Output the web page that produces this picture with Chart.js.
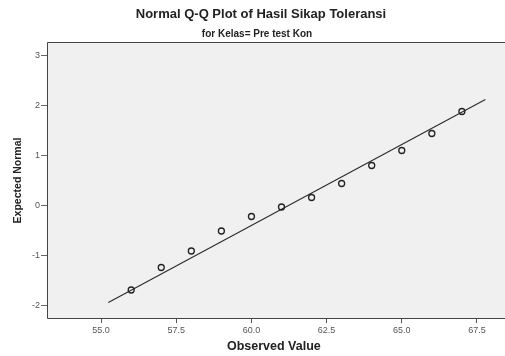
<!DOCTYPE html>
<html>
<head>
<meta charset="utf-8">
<script src="https://cdn.jsdelivr.net/npm/chart.js@4/dist/chart.umd.min.js"></script>
<style>
  html, body { margin: 0; padding: 0; background: #fff; }
  #wrap { width: 505px; height: 356px; }
</style>
</head>
<body>
<div id="wrap"><canvas id="qq" width="505" height="356"></canvas></div>
<script>
// observed values and their expected normal quantiles
var observed = [56, 57, 58, 59, 60, 61, 62, 63, 64, 65, 66, 67];
var expected = [-1.69, -1.24, -0.91, -0.51, -0.22, -0.03, 0.16, 0.44, 0.80, 1.10, 1.44, 1.88];

// reference line end points
var lineX = [55.24, 67.78];
var lineY = [-1.94, 2.12];

var xTicks = [55, 57.5, 60, 62.5, 65, 67.5];
var yTicks = [-2, -1, 0, 1, 2, 3];

var titleText = "Normal Q-Q Plot of Hasil Sikap Toleransi";
var subText = "for Kelas= Pre test Kon";

var FONT = "'Liberation Sans', Arial, sans-serif";

// plot background, frame (runs off the right edge in the original) and titles
var frame = {
  id: 'frame',
  beforeDatasetsDraw: function(chart) {
    var a = chart.chartArea, ctx = chart.ctx;
    ctx.save();
    ctx.fillStyle = '#f0f0f0';
    ctx.fillRect(a.left, a.top, chart.width - a.left, a.bottom - a.top);
    ctx.restore();
  },
  afterDraw: function(chart) {
    var a = chart.chartArea, ctx = chart.ctx;
    ctx.save();
    ctx.strokeStyle = '#444';
    ctx.lineWidth = 1;
    ctx.beginPath();
    ctx.moveTo(chart.width, a.top + 0.5);
    ctx.lineTo(a.left + 0.5, a.top + 0.5);
    ctx.lineTo(a.left + 0.5, a.bottom - 0.5);
    ctx.lineTo(chart.width, a.bottom - 0.5);
    ctx.stroke();
    ctx.fillStyle = '#222';
    ctx.textAlign = 'center';
    ctx.textBaseline = 'middle';
    ctx.font = 'bold 13px ' + FONT;
    ctx.fillText(titleText, 261, 14);
    ctx.font = 'bold 10px ' + FONT;
    ctx.fillText(subText, 257, 34);
    ctx.restore();
  }
};

new Chart("qq", {
  type: "scatter",
  data: {
    datasets: [{
      data: observed.map(function(v, i) { return {x: v, y: expected[i]}; }),
      pointRadius: 3,
      pointHoverRadius: 3,
      pointStyle: 'circle',
      borderColor: '#222',
      borderWidth: 1.3,
      backgroundColor: 'rgba(0,0,0,0)'
    }, {
      data: lineX.map(function(v, i) { return {x: v, y: lineY[i]}; }),
      showLine: true,
      pointRadius: 0,
      borderColor: '#2a2a2a',
      borderWidth: 1.1
    }]
  },
  plugins: [frame],
  options: {
    responsive: false,
    animation: false,
    layout: { padding: { top: 42, right: 0, left: 0, bottom: 0 } },
    plugins: {
      legend: { display: false },
      tooltip: { enabled: false }
    },
    scales: {
      x: {
        type: 'linear',
        min: 53.2,
        max: 68.29,
        afterBuildTicks: function(s) { s.ticks = xTicks.map(function(v) { return {value: v}; }); },
        afterFit: function(s) { s.height = 37; },
        grid: { drawOnChartArea: false, drawTicks: true, tickLength: 4, color: '#555' },
        border: { display: false },
        ticks: {
          padding: 2,
          color: '#555',
          font: { family: FONT, size: 9 },
          callback: function(v) { return Number(v).toFixed(1); }
        },
        title: {
          display: true,
          text: 'Observed Value',
          color: '#222',
          font: { family: FONT, size: 12.5, weight: 'bold' },
          padding: { top: 0, bottom: 2 }
        }
      },
      y: {
        type: 'linear',
        min: -2.27,
        max: 3.27,
        afterBuildTicks: function(s) { s.ticks = yTicks.map(function(v) { return {value: v}; }); },
        afterFit: function(s) { s.width = 47; },
        grid: { drawOnChartArea: false, drawTicks: true, tickLength: 6, color: '#666' },
        border: { display: false },
        ticks: {
          padding: 1,
          color: '#555',
          font: { family: FONT, size: 9 },
          callback: function(v) { return String(v); }
        },
        title: {
          display: true,
          text: 'Expected Normal',
          color: '#222',
          font: { family: FONT, size: 10.5, weight: 'bold' },
          padding: { top: 12, bottom: 0 }
        }
      }
    }
  }
});
</script>
</body>
</html>
